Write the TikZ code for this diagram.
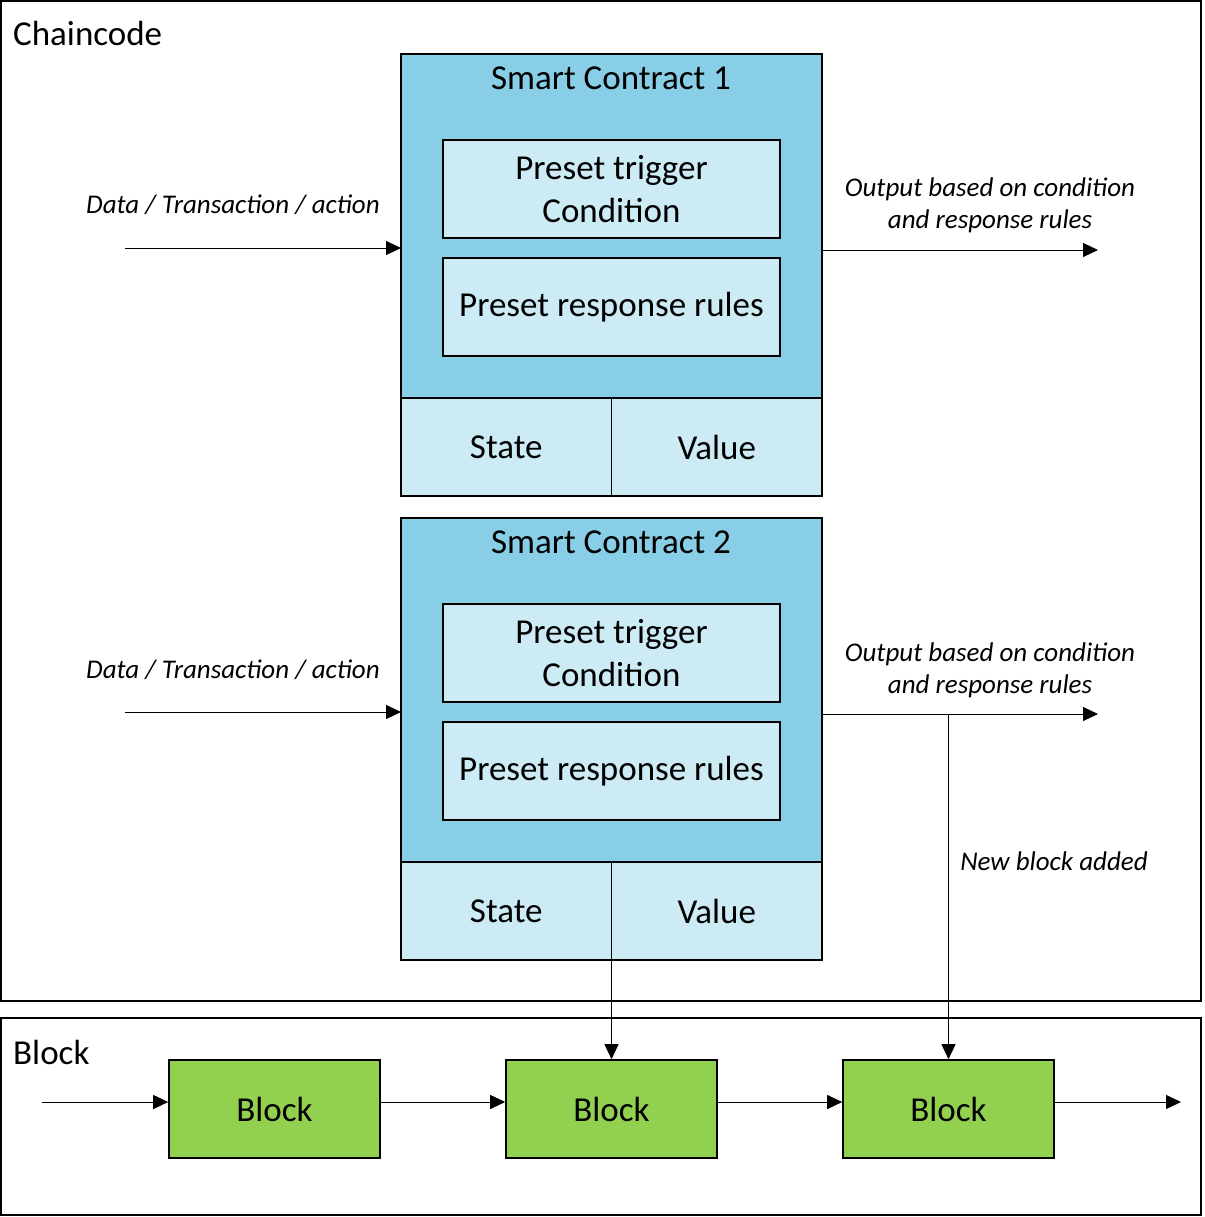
\documentclass[tikz,border=0pt]{standalone}
\usepackage{fontspec}
\setmainfont{Carlito}
\usetikzlibrary{arrows.meta,positioning}

\definecolor{scblue}{HTML}{88CEE6}
\definecolor{scpale}{HTML}{CDEBF5}
\definecolor{blockgreen}{HTML}{92D050}

\tikzset{
	bigtext/.style={font=\fontsize{35}{43}\selectfont},
	frame/.style={draw, line width=1.6pt, anchor=north west, inner sep=0pt, outer sep=0pt},
	contract/.style={draw, line width=1.6pt, fill=scblue, anchor=north west, inner sep=0pt, outer sep=0pt, minimum width=421pt, minimum height=344pt},
	rulebox/.style={draw, line width=1.6pt, fill=scpale, minimum width=337pt, minimum height=98pt, align=center, bigtext},
	cellbox/.style={draw, line width=1.6pt, fill=scpale, outer sep=0pt, minimum width=210.5pt, minimum height=98pt, bigtext},
	blockbox/.style={draw, line width=1.6pt, fill=blockgreen, minimum width=211pt, minimum height=98pt, bigtext},
	note/.style={font=\fontsize{27}{32}\selectfont\itshape, align=center},
	flow/.style={-{Triangle[length=15pt,width=14pt]}, line width=0.9pt}
}

\begin{document}
\begin{tikzpicture}[x=1pt,y=-1pt]
	\useasboundingbox (0,0) rectangle (1204,1217);
	\node (chain) [frame, minimum width=1200pt, minimum height=1000pt] at (1,1) {};
	\node (chainlabel) [bigtext, anchor=west, inner sep=0pt] at (13,33) {Chaincode};
	\node (ledger) [frame, minimum width=1200pt, minimum height=197pt] at (1,1018) {};
	\node (ledgerlabel) [bigtext, anchor=west, inner sep=0pt] at (13,1052) {Block};

	\node (sc1) [contract] at (401,54) {};
	\node (sc1title) [bigtext] at (611,78) {Smart Contract 1};
	\node (trigger1) [rulebox] at (611.5,189) {Preset trigger\\Condition};
	\node (rules1) [rulebox] at (611.5,307) {Preset response rules};
	\node (state1) [cellbox, anchor=north west] at (401,398) {State};
	\node (value1) [cellbox, anchor=north west] at (state1.north east) {Value};
	\draw [line width=1.6pt] (state1.north east) -- (state1.south east);

	\node (sc2) [contract] at (401,518) {};
	\node (sc2title) [bigtext] at (611,542) {Smart Contract 2};
	\node (trigger2) [rulebox] at (611.5,653) {Preset trigger\\Condition};
	\node (rules2) [rulebox] at (611.5,771) {Preset response rules};
	\node (state2) [cellbox, anchor=north west] at (401,862) {State};
	\node (value2) [cellbox, anchor=north west] at (state2.north east) {Value};
	\draw [line width=1.6pt] (state2.north east) -- (state2.south east);

	\coordinate (in1) at (125,248);
	\coordinate (out1) at (1098,250);
	\coordinate (in2) at (125,712);
	\coordinate (out2) at (1098,714);
	\draw [flow] (in1) -- (in1 -| sc1.west);
	\draw [flow] (out1 -| sc1.east) -- (out1);
	\draw [flow] (in2) -- (in2 -| sc2.west);
	\draw [flow] (out2 -| sc2.east) -- (out2);
	\node (inlabel1) [note] at (233,205) {Data / Transaction / action};
	\node (outlabel1) [note] at (990,205) {Output based on condition\\and response rules};
	\node (inlabel2) [note] at (233,670) {Data / Transaction / action};
	\node (outlabel2) [note] at (990,670) {Output based on condition\\and response rules};

	\node (blk1) [blockbox] at (274.5,1109) {Block};
	\node (blk2) [blockbox] at (611.5,1109) {Block};
	\node (blk3) [blockbox] at (948.5,1109) {Block};
	\coordinate (chainin) at (42,1102);
	\coordinate (chainout) at (1181,1102);
	\draw [flow] (chainin) -- (chainin -| blk1.west);
	\draw [flow] (chainin -| blk1.east) -- (chainin -| blk2.west);
	\draw [flow] (chainin -| blk2.east) -- (chainin -| blk3.west);
	\draw [flow] (chainin -| blk3.east) -- (chainout);

	\draw [flow] (state2.south east) -- (blk2.north);
	\draw [flow] (out2 -| blk3.north) -- (blk3.north);
	\node (addlabel) [note] at (1054,861) {New block added};
\end{tikzpicture}
\end{document}
